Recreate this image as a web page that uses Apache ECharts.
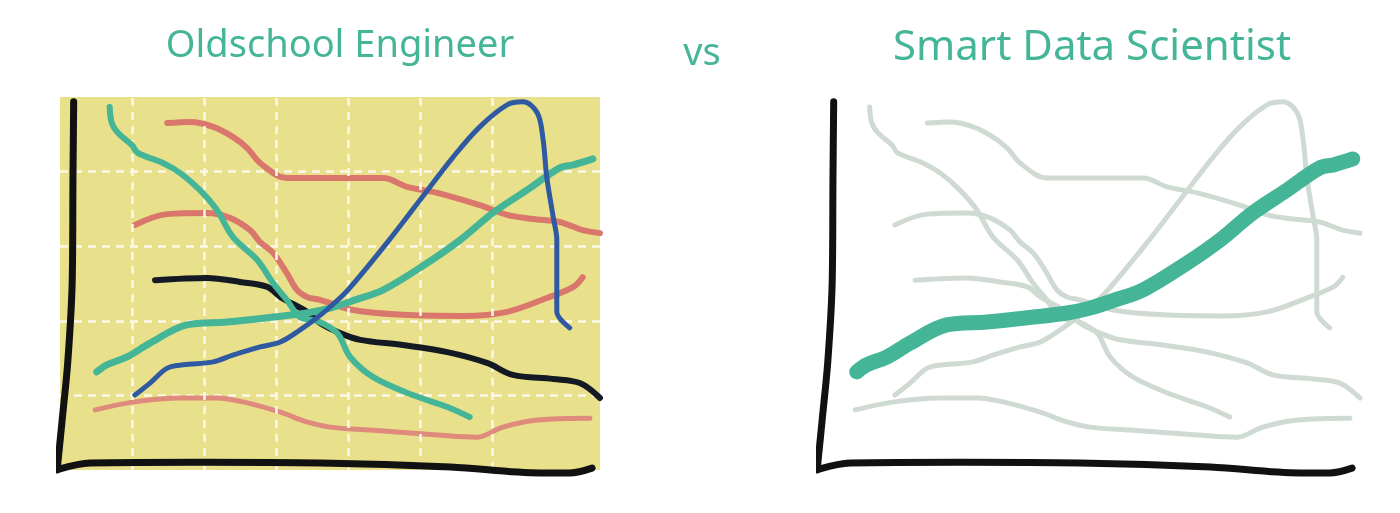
<!DOCTYPE html>
<html>
<head>
<meta charset="utf-8">
<script src="https://cdn.jsdelivr.net/npm/echarts@6/dist/echarts.min.js"></script>
<style>
  html, body { margin: 0; background: #fff; }
  #chart { width: 1400px; height: 513px; }
</style>
</head>
<body>
<div id="chart"></div>
<script>
// every line is a list of [x, y] points
// (x: 0..75, y: 0..100, same scale on both panels)
const tealDown = [[6.9, 97.3], [7.2, 93.0], [8.1, 90.3], [10.0, 87.1], [10.8, 85.0], [14.3, 82.3], [16.7, 79.6],
  [19.4, 75.1], [21.8, 69.7], [24.0, 62.5], [27.4, 56.3], [29.6, 50.1], [31.5, 45.6], [33.3, 41.0], [35.8, 39.9],
  [38.5, 36.7], [40.3, 30.3], [43.5, 24.9], [49.0, 20.1], [53.8, 16.9], [56.9, 14.2]];
const tealUp = [[5.1, 26.3], [6.5, 28.2], [9.3, 30.3], [12.5, 34.0], [17.6, 38.9], [23.2, 39.7], [29.6, 41.0],
  [34.3, 42.1], [37.5, 43.4], [41.0, 45.6], [44.9, 48.3], [51.0, 55.5], [55.6, 61.7], [60.1, 68.9], [64.9, 75.1],
  [69.4, 81.0], [71.3, 81.8], [74.0, 83.4]];
const blueLine = [[10.4, 20.1], [12.5, 23.3], [14.9, 27.3], [17.1, 28.2], [21.3, 29.0], [24.0, 30.8], [27.8, 33.0],
  [30.6, 34.3], [33.3, 37.5], [35.7, 40.8], [37.5, 43.7], [40.0, 48.3], [45.4, 60.9], [50.0, 72.4], [54.6, 83.9],
  [58.3, 92.0], [62.1, 97.9], [64.3, 98.7], [66.3, 95.7], [67.1, 88.5], [67.6, 78.6], [68.5, 67.8], [69.0, 61.7],
  [69.0, 48.3], [69.0, 42.4], [70.8, 38.1]];
const redUpper = [[14.9, 93.0], [18.1, 93.3], [21.3, 92.0], [24.0, 89.3], [26.0, 86.3], [27.8, 82.3], [31.5, 78.3],
  [37.5, 78.3], [44.9, 78.3], [48.2, 75.9], [52.4, 74.3], [58.3, 71.0], [62.1, 68.4], [65.7, 67.3], [69.4, 66.5],
  [72.6, 64.3], [75.0, 63.5]];
const redMiddle = [[10.4, 65.7], [14.9, 68.6], [20.4, 68.9], [23.6, 67.6], [26.4, 64.3], [27.8, 61.1], [29.6, 58.2],
  [31.5, 52.8], [32.9, 48.3], [34.3, 46.4], [36.1, 45.6], [40.7, 42.9], [47.6, 41.6], [56.0, 41.3], [62.1, 42.4],
  [67.6, 46.1], [71.3, 49.1], [72.6, 51.7]];
const blackLine = [[13.2, 50.9], [20.4, 51.5], [25.0, 50.4], [28.8, 49.1], [30.6, 46.4], [34.3, 42.4], [36.1, 39.4],
  [38.9, 36.7], [41.7, 34.9], [47.6, 33.5], [53.8, 31.6], [59.3, 28.7], [62.9, 25.5], [68.5, 24.4], [72.2, 23.3],
  [75.0, 19.3]];
const pinkLine = [[4.9, 16.1], [10.1, 18.2], [16.7, 19.3], [21.8, 19.3], [26.0, 18.0], [30.6, 15.5], [34.3, 12.9],
  [37.5, 11.5], [43.1, 10.7], [52.4, 9.4], [57.9, 8.8], [61.5, 11.5], [66.3, 13.4], [73.6, 13.9]];

// hand drawn axes
const axisLeftPath = [[1.9, 98.7], [1.8, 77.7], [1.7, 50.9], [1.1, 29.5], [0.3, 13.4], [-0.4, 0]];
const axisBottomPath = [[0, 0.3], [4.2, 1.9], [19.4, 2.1], [36.1, 1.9], [54.2, 0.8], [66.7, -0.8], [70.8, -0.8], [73.9, 0.5]];

// dashed guide lines of the left panel
const gridColumns = [10, 20, 30, 40, 50, 60];
const gridRowStep = 20;

const titles = ['Oldschool Engineer', 'vs', 'Smart Data Scientist'];

const GREEN = '#45b597';
const GREY = '#cfdad3';
const FONT = '"Noto Sans", sans-serif';

const chart = echarts.init(document.getElementById('chart'));

const line = (data, color, width, idx, z) => ({
  type: 'line',
  data: data,
  xAxisIndex: idx,
  yAxisIndex: idx,
  smooth: 0.35,
  symbol: 'none',
  clip: false,
  silent: true,
  z: z,
  lineStyle: { color: color, width: width, cap: 'round', join: 'round' }
});

const axisLine = (data, idx) => line(data, '#111', 7, idx, 20);

const guides = {
  silent: true,
  symbol: 'none',
  label: { show: false },
  lineStyle: { color: '#fbf8ea', width: 2.5, type: [8, 6] },
  data: gridColumns.map(v => ({ xAxis: v }))
};

const leftPink = line(pinkLine, '#de8a7c', 5, 0, 3);
leftPink.markLine = guides;

const titleStyle = size => ({ color: GREEN, fontSize: size, fontWeight: 'normal', fontFamily: FONT });

const option = {
  animation: false,
  title: [
    { text: titles[0], left: 335, top: 22, textAlign: 'center', textStyle: titleStyle(38) },
    { text: titles[1], left: 697, top: 30, textAlign: 'center', textStyle: titleStyle(38) },
    { text: titles[2], left: 1087, top: 22, textAlign: 'center', textStyle: titleStyle(42) }
  ],
  grid: [
    { left: 60, top: 97, width: 540, height: 373, show: true, backgroundColor: '#e9e08b', borderWidth: 0 },
    { left: 820, top: 97, width: 540, height: 373, show: false }
  ],
  xAxis: [0, 1].map(i => ({
    type: 'value', gridIndex: i, min: 0, max: 75,
    axisLine: { show: false }, axisTick: { show: false }, axisLabel: { show: false },
    splitLine: { show: false }
  })),
  yAxis: [0, 1].map(i => ({
    type: 'value', gridIndex: i, min: 0, max: 100, interval: gridRowStep,
    axisLine: { show: false }, axisTick: { show: false }, axisLabel: { show: false },
    splitLine: {
      show: i === 0, showMinLine: false, showMaxLine: false,
      lineStyle: { color: '#fbf8ea', width: 2.5, type: [8, 6] }
    }
  })),
  series: [
    // left panel: all lines in colour
    leftPink,
    line(redUpper, '#d9776d', 6, 0, 4),
    line(redMiddle, '#d9776d', 6, 0, 4),
    line(blackLine, '#141a24', 6, 0, 5),
    line(tealDown, GREEN, 6, 0, 6),
    line(tealUp, GREEN, 7, 0, 6),
    line(blueLine, '#2f5aa2', 5, 0, 7),
    axisLine(axisLeftPath, 0),
    axisLine(axisBottomPath, 0),
    // right panel: everything grey but the one that matters
    line(pinkLine, GREY, 5, 1, 3),
    line(redUpper, GREY, 5, 1, 3),
    line(redMiddle, GREY, 5, 1, 3),
    line(blackLine, GREY, 5, 1, 3),
    line(tealDown, GREY, 5, 1, 3),
    line(blueLine, GREY, 5, 1, 3),
    line(tealUp, GREEN, 15, 1, 8),
    axisLine(axisLeftPath, 1),
    axisLine(axisBottomPath, 1)
  ]
};

chart.setOption(option);
</script>
</body>
</html>
